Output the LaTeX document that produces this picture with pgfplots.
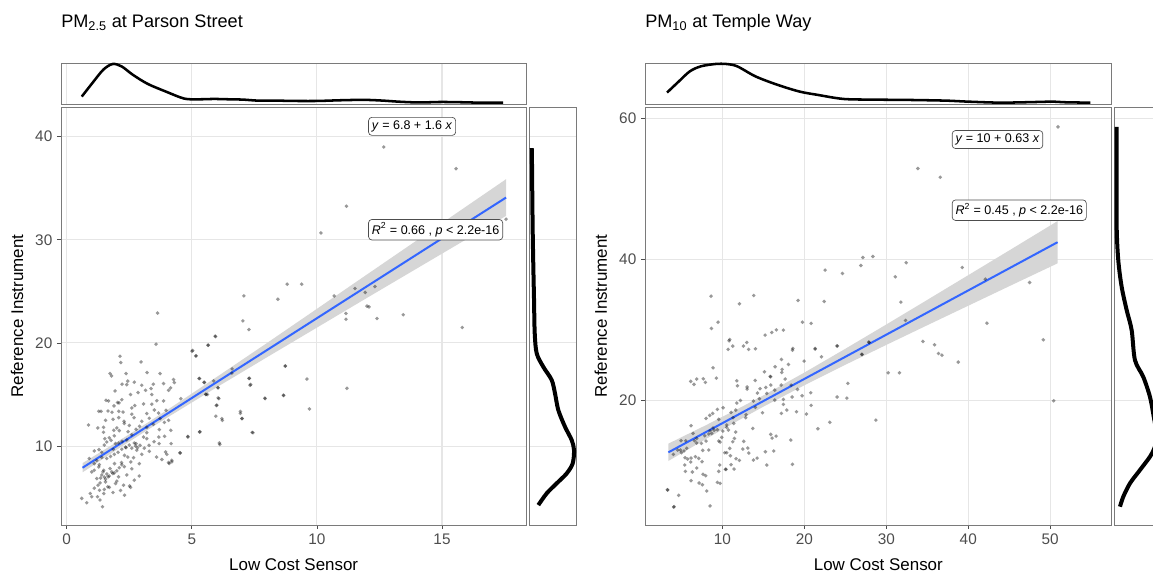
\documentclass[border=0pt]{standalone}
\usepackage{fontspec}
\setmainfont{Liberation Sans}
\usepackage{pgfplots}
\pgfplotsset{compat=1.18}
\definecolor{gridc}{HTML}{E6E6E6}
\definecolor{tickc}{HTML}{4D4D4D}
\definecolor{framec}{HTML}{7A7A7A}
\definecolor{regblue}{HTML}{3366FF}
\definecolor{bandc}{HTML}{D6D6D6}
\tikzset{
  labbox/.style={draw=tickc, line width=0.5pt, rounded corners=2.5pt, fill=white,
    inner xsep=2.5pt, inner ysep=2.5pt, font=\fontsize{9.4}{11}\selectfont, anchor=west},
}
\pgfplotsset{
  base/.style={scale only axis, axis line style={framec, line width=0.6pt},
    major grid style={gridc, line width=0.8pt},
    /pgf/number format/assume math mode=true},
  mainax/.style={base, width=349pt, height=313.5pt,
    grid=major, tick align=outside, xtick pos=bottom, ytick pos=left,
    major tick length=3pt, tick style={color=tickc, line width=0.6pt},
    xticklabel style={font=\fontsize{11.5}{13}\selectfont, text=tickc},
    yticklabel style={font=\fontsize{11.5}{13}\selectfont, text=tickc},
    xlabel={Low Cost Sensor}, ylabel={Reference Instrument},
    every axis x label/.style={at={(axis description cs:0.5,-0.0957)}, anchor=center, font=\fontsize{12.7}{15}\selectfont},
    every axis y label/.style={at={(axis description cs:-0.0946,0.5)}, rotate=90, anchor=center, font=\fontsize{12.7}{15}\selectfont}},
  topax/.style={base, width=349pt, height=30.75pt, ymin=0, ymax=122,
    xmajorgrids, ytick=\empty, xticklabels={}, major tick length=0pt},
  rightax/.style={base, width=35pt, height=313.5pt, xmin=0, xmax=46.7,
    ymajorgrids, xtick=\empty, yticklabels={}, major tick length=0pt},
  pts/.style={only marks, mark=*, mark size=1.45pt, mark options={fill=black, draw opacity=0, fill opacity=0.4}},
}
\begin{document}
\begin{tikzpicture}
\path[use as bounding box] (0pt,0pt) rectangle (864.75pt,429.75pt);

% ---------------- Panel 1 ----------------
\node[anchor=west, font=\fontsize{13.6}{16}\selectfont, inner sep=0pt] at (45.75pt,412.5pt) {PM\textsubscript{2.5} at Parson Street};

\begin{axis}[mainax, at={(45.75pt,36pt)}, anchor=south west,
  xmin=-0.23, xmax=18.37, ymin=2.35, ymax=42.88,
  xtick={0,5,10,15}, ytick={10,20,30,40}]
\addplot[pts] coordinates {
(12.67,39.0)(15.56,36.9)(11.18,33.26)(10.16,30.67)(17.56,32.0)(8.81,25.7)(9.39,25.7)(10.69,24.56)(11.52,25.28)(11.93,24.9)(12.32,25.47)(12.0,23.57)(12.08,23.5)(11.16,22.86)(11.16,22.3)(12.4,22.37)(13.45,22.73)(15.81,21.5)
(3.63,22.9)(3.57,19.88)(5.03,19.27)(5.17,18.75)(5.93,20.66)(5.65,19.79)(7.08,24.56)(7.04,22.14)(7.28,21.3)(8.44,24.24)(6.61,17.49)(7.28,16.56)(7.33,15.9)(5.29,16.56)(5.5,16.17)(5.56,15.0)(5.62,15.0)(6.05,15.65)(6.05,14.68)(5.98,13.94)(5.96,12.9)(6.22,12.49)(6.94,13.36)(7.01,12.68)(7.41,11.33)(7.92,14.65)(8.66,14.94)(8.74,17.78)(6.12,10.16)(5.32,11.39)(4.84,10.94)(4.53,9.35)(4.2,8.48)(4.1,8.32)
(9.6,16.5)(9.7,13.6)(11.2,15.6)
(0.6,4.93)(0.80,4.51)(1.0,5.09)(1.23,5.09)(1.43,4.12)(1.33,4.77)(0.87,12.05)(1.29,9.66)(1.1,9.53)(1.24,11.76)(1.28,13.37)(1.37,13.37)(1.57,14.44)(1.67,14.38)(1.73,17.03)(1.79,16.8)(1.93,15.35)(2.03,14.22)(2.09,14.19)(2.13,18.71)(2.16,18.1)(2.37,17.03)(2.21,16.0)(2.4,15.96)(2.44,16.3)(1.89,13.9)(1.81,13.28)(2.08,13.37)(2.25,13.3)(2.08,12.76)(2.29,12.4)(2.0,11.76)(1.88,11.53)(1.47,11.82)(1.47,11.34)(1.52,10.72)(1.6,10.4)(1.77,10.56)(1.86,9.69)(1.95,10.24)(2.08,10.3)(2.21,10.46)(2.37,9.85)(2.31,9.1)(2.44,8.94)(2.56,8.46)(2.19,8.4)(1.91,8.3)(1.73,7.82)(1.48,7.66)(1.28,7.98)(1.1,7.66)(1.2,6.85)(1.33,6.43)(1.55,6.53)(1.65,7.02)(1.84,7.34)(1.95,6.37)(2.07,7.02)(2.27,6.21)(2.51,6.14)(2.31,5.24)(1.64,6.05)(1.48,5.4)(1.31,5.72)(1.1,5.92)(0.94,5.4)
(2.67,8.88)(2.83,9.85)(2.77,10.24)(2.93,10.08)(2.77,11.63)(2.91,11.92)(3.07,10.88)(3.2,10.72)(3.29,10.08)(3.49,10.43)(3.68,10.88)(3.91,10.95)(3.69,10.24)(3.59,8.94)(3.95,9.43)(4.07,8.4)(4.2,8.62)(4.17,10.24)(4.16,11.53)(4.07,12.5)(3.97,13.47)(3.87,14.38)(4.07,15.41)(4.27,16.45)(4.3,16.16)(4.15,15.64)(3.87,16.06)(3.73,17.03)(3.46,16.0)(3.37,15.58)(3.21,17.13)(3.15,15.41)(3.4,14.06)(3.07,14.09)(2.97,18.16)(2.85,15.19)(2.72,13.93)(2.6,13.09)(2.69,12.76)(3.2,13.15)(3.67,13.2)(3.73,12.67)(3.46,12.11)(3.2,11.82)
(4.53,9.33)(4.84,10.88)(5.31,11.37)(4.56,14.6)(5.01,19.2)(5.16,18.74)(5.65,19.78)(5.95,20.62)(5.31,16.55)(5.49,16.19)(5.56,15.03)(6.0,13.97)(6.08,14.6)(6.2,12.66)(6.1,10.3)(6.6,17.08)(6.94,13.17)(7.0,12.66)(7.44,11.3)(7.3,16.58)(7.35,15.97)(7.93,14.6)(8.67,14.9)(8.73,17.75)(6.04,15.67)(5.87,16.32)
(1.4,7.2)(1.5,7.0)(1.6,7.3)(1.7,7.1)(1.45,7.5)(1.55,6.8)(1.35,6.9)(1.8,7.5)(1.9,7.4)(2.0,7.6)(2.1,7.9)(2.2,8.2)(2.3,8.0)(1.3,8.2)(1.2,8.6)(1.4,8.9)(1.6,8.8)(1.75,9.0)(1.9,9.2)(2.05,9.4)(2.2,9.7)(2.35,9.9)(2.5,10.1)(2.6,9.8)(2.7,10.3)(2.75,10.0)(2.8,9.6)(2.4,10.6)(2.6,11.1)(2.5,12.0)(2.3,12.2)(2.1,11.5)(1.9,11.0)(1.7,10.8)(1.5,10.1)(1.4,9.4)(1.1,8.3)(1.0,7.5)(0.9,8.8)(1.25,6.2)(1.7,6.0)(2.0,6.6)(2.4,7.2)(2.6,7.8)(2.9,8.3)(3.0,9.2)(3.1,9.8)(3.3,9.5)(3.0,12.4)(3.3,12.7)(3.5,13.5)(3.6,14.4)(3.4,15.0)(3.0,15.9)(2.7,16.2)(2.55,15.0)(2.2,14.5)(2.6,13.7)(1.55,12.5)(1.65,13.4)(1.85,12.6)(2.45,11.4)(3.2,11.3)(3.7,11.6)(3.9,12.3)(4.0,9.2)(3.8,8.7)(2.9,7.1)(2.7,6.7)(2.15,5.7)(1.85,5.5)(1.5,5.8)(2.55,6.0)
};
\addplot[draw=none, fill=bandc] coordinates {
(0.63,8.35)(2,10.39)(3,11.91)(4,13.48)(6,16.71)(8,19.99)(10,23.31)(12,26.64)(14,29.96)(16,33.29)(17.56,35.88)
(17.56,32.32)(16,30.09)(14,27.23)(12,24.37)(10,21.49)(8,18.61)(6,15.71)(4,12.74)(3,11.21)(2,9.65)(0.63,7.45)(0.63,8.35)};
\addplot[regblue, line width=1.5pt] coordinates {(0.63,7.90)(17.56,34.10)};
\node[labbox] at (axis cs:12.05,41.0) {\textit{y} = 6.8 + 1.6 \textit{x}};
\node[labbox] at (axis cs:12.05,30.98) {\textit{R}\textsuperscript{2} = 0.66 , \textit{p} < 2.2e-16};
\end{axis}

\begin{axis}[topax, at={(45.75pt,351.75pt)}, anchor=south west,
  xmin=-0.23, xmax=18.37, xtick={0,5,10,15}]
\addplot[black, line width=1.9pt, smooth, tension=0.5] coordinates {
(0.60,22)(1.02,62)(1.46,102)(1.83,119)(2.19,112)(2.64,87)(3.23,60)(3.96,37)(4.7,16)(5.29,14)(5.88,15)(6.47,14)(7.06,13)(7.64,10)(8.38,10)(9.12,9)(10.0,9)(10.89,11)(11.48,12)(12.06,12)(12.65,10)(13.24,7)(13.83,5)(14.42,5)(15.0,6)(15.9,5)(16.49,4)(17.44,4)};
\end{axis}

\begin{axis}[rightax, at={(397pt,36pt)}, anchor=south west,
  ymin=2.35, ymax=42.88, ytick={10,20,30,40}]
\addplot[black, line width=3pt, smooth, tension=0.5] coordinates {
(2.4,38.9)(2.7,37.06)(3.0,33.84)(3.4,30.61)(4.0,27.37)(4.7,24.15)(5.4,20.92)(7.4,18.98)(14,17.68)(22.4,16.4)(25.7,15.1)(29,13.49)(35.7,11.87)(42.4,10.58)(44.7,9.61)(43.4,8.32)(37.4,7.35)(27.4,6.39)(17.4,5.42)(9.0,4.28)};
\end{axis}

% ---------------- Panel 2 ----------------
\node[anchor=west, font=\fontsize{13.6}{16}\selectfont, inner sep=0pt] at (483.75pt,412.5pt) {PM\textsubscript{10} at Temple Way};

\begin{axis}[mainax, at={(483.75pt,36pt)}, anchor=south west, width=350pt,
  xmin=0.56, xmax=57.5, ymin=2.27, ymax=61.6,
  xtick={10,20,30,40,50}, ytick={20,40,60}]
\addplot[pts] coordinates {
(50.95,58.77)(33.86,52.87)(36.58,51.63)(27.14,40.24)(28.36,40.38)(26.9,39.1)(32.43,39.5)(31.1,37.5)(39.27,38.82)(42.08,37.16)(47.49,36.69)(31.78,33.9)(32.35,31.3)(42.28,30.92)(27.87,28.23)(34.47,28.33)(35.89,27.85)(49.16,28.56)
(36.37,26.62)(36.79,26.38)(38.78,25.39)(30.23,23.87)(31.61,23.87)(50.42,19.9)(28.73,17.16)(27.0,26.48)
(8.62,34.75)(9.47,31.06)(8.66,30.17)(12.08,33.66)(13.83,34.85)(10.82,28.41)(10.9,28.6)(11.27,27.66)(12.57,27.66)(12.98,28.18)(15.21,29.22)(16.03,29.6)(16.59,29.97)(17.45,29.93)(19.24,34.14)(19.77,31.06)(20.83,30.88)(22.54,38.44)(22.42,34.0)(24.65,37.97)(23.97,27.7)(21.32,27.33)(18.6,27.33)(10.7,27.2)(13.2,27.2)(27.91,28.18)
(14.03,27.28)(18.55,27.09)(8.86,24.58)(9.27,23.12)(6.14,22.65)(6.54,22.23)(6.87,22.98)(7.68,23.02)(7.93,22.51)
(11.76,22.74)(11.84,22.03)(13.02,21.56)(14.0,22.79)(15.13,24.01)(15.9,23.3)(17.29,24.35)(17.25,23.93)(17.66,22.98)(18.06,25.06)(19.98,25.53)(21.32,27.23)(22.09,26.14)(24.04,27.66)(27.06,26.48)(25.31,22.37)(24.0,20.43)(25.19,20.28)(20.79,21.04)(20.83,19.25)(20.26,18.01)(21.65,15.93)(23.11,16.84)(19.73,20.62)(19.16,21.52)(19.04,18.34)(18.55,10.88)(18.35,14.33)(17.45,19.39)(17.2,18.11)(16.56,14.89)(15.9,15.13)(16.07,14.6)(16.27,12.77)(15.25,12.67)(15.42,10.78)(14.24,11.77)(13.79,11.49)(13.22,12.48)(13.1,13.19)
(12.49,13.05)(12.61,14.14)(12.08,11.44)(11.67,11.68)(11.43,10.21)(11.06,10.83)(10.45,10.17)(10.98,12.1)(10.53,12.53)(11.47,14.56)(11.63,15.46)(11.39,16.69)(11.31,17.5)(11.76,19.58)(12.89,17.92)(13.71,15.98)(12.85,17.5)(14.03,18.96)(13.79,19.86)(14.89,18.2)(14.52,20.19)(14.28,21.0)(15.42,20.95)(15.3,21.8)(15.91,22.13)(16.39,21.42)(16.39,20.0)(17.17,22.13)(17.45,20.1)(17.86,18.58)(18.39,22.13)(18.51,20.43)(17.21,25.77)(16.44,24.73)(15.83,23.36)(14.6,21.61)(13.02,21.85)(12.2,19.95)(11.63,18.58)(11.06,18.25)(10.53,16.46)(10.09,18.91)(9.39,18.68)(9.56,17.26)(9.39,15.79)(8.99,15.7)(8.5,15.65)(8.34,15.18)(7.85,14.94)(8.01,14.19)(7.44,13.86)(6.87,14.56)(6.42,15.27)(6.18,16.36)(5.53,14.23)(4.96,14.23)(5.0,12.53)(5.45,11.82)(5.77,11.63)(6.18,11.77)(6.14,11.21)(6.71,11.96)(7.12,11.73)(7.52,11.26)(6.87,10.36)(6.34,9.79)(6.18,8.56)(5.49,9.88)(5.41,10.78)(5.32,12.77)(7.64,9.46)(7.97,9.27)(7.16,8.23)(7.56,7.99)(8.09,7.09)(8.5,4.97)(9.39,8.32)(9.72,8.18)(9.56,9.88)(9.68,10.78)(10.37,10.17)(10.29,12.53)(10.9,13.15)(11.27,14.09)(9.92,14.71)(10.05,15.6)(9.56,14.19)(9.72,14.04)(10.74,15.75)(10.53,16.12)(8.82,18.11)(8.46,17.83)(8.01,17.4)(8.7,15.27)(8.87,16.03)(8.34,12.91)(7.6,12.86)(6.87,13.9)(6.59,14.23)(4.88,12.91)(4.67,6.48)(4.06,4.82)(3.29,7.28)(4.02,12.29)(4.55,12.91)(5.65,13.15)(3.33,7.23)(4.1,4.87)
};
\addplot[draw=none, fill=bandc] coordinates {
(3.4,13.81)(8,16.44)(12,18.82)(15,20.66)(20,23.90)(25,27.28)(30,30.73)(35,34.22)(40,37.73)(45,41.24)(50.9,45.41)
(50.9,39.41)(45,36.16)(40,33.39)(35,30.62)(30,27.83)(25,25.01)(20,22.10)(15,19.06)(12,17.14)(8,14.48)(3.4,11.35)(3.4,13.81)};
\addplot[regblue, line width=1.5pt] coordinates {(3.41,12.58)(50.9,42.41)};
\node[labbox] at (axis cs:38.0,56.98) {\textit{y} = 10 + 0.63 \textit{x}};
\node[labbox] at (axis cs:38.0,46.95) {\textit{R}\textsuperscript{2} = 0.45 , \textit{p} < 2.2e-16};
\end{axis}

\begin{axis}[topax, at={(483.75pt,351.75pt)}, anchor=south west, width=350pt,
  xmin=0.56, xmax=57.5, xtick={10,20,30,40,50}]
\addplot[black, line width=1.9pt, smooth, tension=0.5] coordinates {
(3.25,34)(4.68,67)(6.02,97)(7.36,112)(9.15,119)(10.49,119)(11.82,112)(14.05,82)(16.73,57)(19.41,37)(21.65,27)(24.77,15)(28.34,13)(32.81,12)(37.27,10)(39.95,7)(43.97,4)(48.43,6)(50.22,7)(52.0,5)(54.91,4)};
\end{axis}

\begin{axis}[rightax, at={(835.7pt,36pt)}, anchor=south west,
  ymin=2.27, ymax=61.6, ytick={20,40,60}]
\addplot[black, line width=3pt, smooth, tension=0.5] coordinates {
(2.4,58.77)(2.4,53.1)(2.4,44.6)(4.0,39.86)(7.4,36.07)(12.4,32.77)(17.4,29.93)(20.7,25.67)(29.0,23.3)(35.7,20.47)(39.5,17.64)(42.5,15.0)(40.5,13.3)(35.7,11.96)(25.7,10.07)(15.7,8.18)(9.0,6.28)(5.7,4.87)};
\end{axis}
\end{tikzpicture}
\end{document}
